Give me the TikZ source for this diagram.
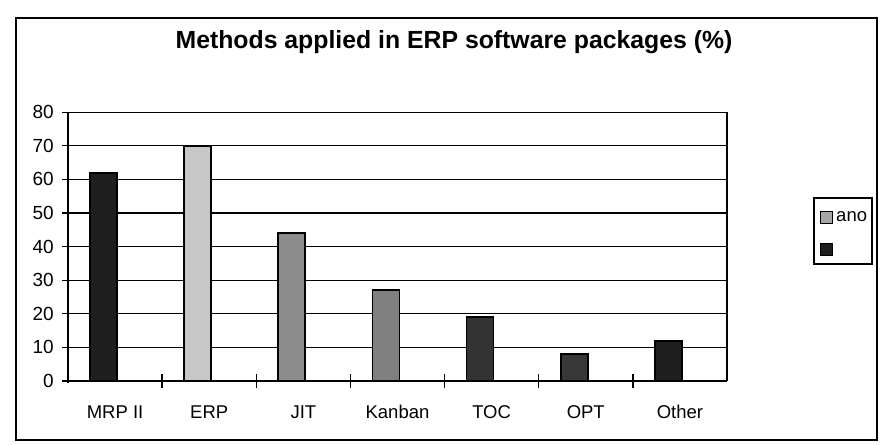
\documentclass[tikz,border=0pt]{standalone}
\usepackage{fontspec}
\setmainfont{Liberation Sans}
\begin{document}
\begin{tikzpicture}[x=1pt,y=-1pt,
  frame/.style={draw=black,line width=1.6pt},
  grid/.style={draw=black,line width=1.2pt},
  axis/.style={draw=black,line width=1.3pt},
  bar/.style={draw=black,line width=1.7pt},
  ylab/.style={anchor=east,font=\fontsize{19}{19}\selectfont,inner sep=0pt},
  xlab/.style={anchor=center,font=\fontsize{18.5}{19}\selectfont,inner sep=0pt},
  ttl/.style={anchor=center,font=\fontsize{24.8}{25}\selectfont\bfseries,inner sep=0pt}]
  \useasboundingbox (0,0) rectangle (885,445);
  \fill[white] (0,0) rectangle (885,445);
  % chart frame
  \draw[frame] (16,18) rectangle (877,440);
  % title
  \node[ttl] (title) at (454,42) {Methods applied in ERP software packages (\%)};
  % plot geometry: y-axis at x=68, value 0 at y=381, 33.6pt per 10 units
  \def\xo{68}\def\yo{381}\def\dy{3.36}\def\cw{94.14}
  % horizontal grid lines and y ticks
  \foreach \v in {10,20,...,80}{
    \draw[grid] (\xo,\yo-\v*\dy) -- (727,\yo-\v*\dy);
  }
  \foreach \v in {0,10,...,80}{
    \draw[axis] (\xo-6,\yo-\v*\dy) -- (\xo,\yo-\v*\dy);
    \node[ylab] (y\v) at (54,\yo-\v*\dy) {\v};
  }
  % plot area right border
  \draw[grid] (727,112) -- (727,\yo);
  % bars: value, fill shade
  \foreach \i/\val/\shade in {0/62/black!88,1/70/black!22,2/44/black!45,3/27/black!50,4/19/black!80,5/8/black!78,6/12/black!88}{
    \pgfmathsetmacro{\bl}{\xo+\i*\cw+22}
    \draw[bar,fill=\shade] (\bl,\yo) rectangle (\bl+27,\yo-\val*\dy);
  }
  % axes
  \draw[axis] (\xo,112) -- (\xo,\yo+2);
  \draw[axis] (\xo,\yo) -- (727,\yo);
  \foreach \i in {1,...,6}{
    \draw[axis] (\xo+\i*\cw,\yo-7) -- (\xo+\i*\cw,\yo+7);
  }
  % category labels
  \foreach \i/\t in {0/MRP II,1/ERP,2/JIT,3/Kanban,4/TOC,5/OPT,6/Other}{
    \node[xlab] (c\i) at (\xo+\i*\cw+\cw/2,412) {\t};
  }
  % legend
  \node[draw=black,line width=1.4pt,minimum width=58pt,minimum height=66pt,inner sep=0pt] (legend) at (843,231) {};
  \draw[line width=0.9pt,fill=black!35] (820,211) rectangle (832,223);
  \node[anchor=west,font=\fontsize{18.5}{19}\selectfont,inner sep=0pt] (ano) at (836,217) {ano};
  \draw[line width=0.9pt,fill=black!88] (820,243) rectangle (832,255);
\end{tikzpicture}
\end{document}
